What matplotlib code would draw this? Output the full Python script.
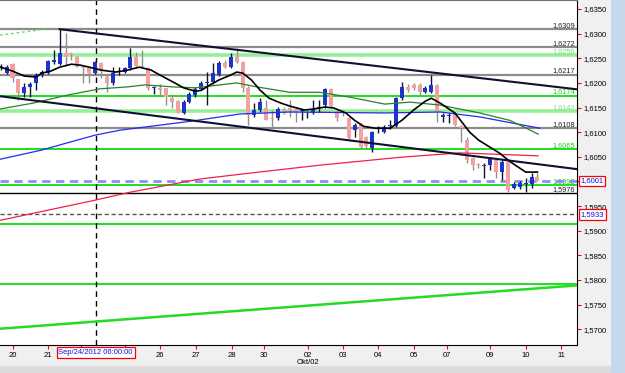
import matplotlib.pyplot as plt
from matplotlib.patches import Rectangle

plt.rcParams['font.family'] = ['Liberation Sans', 'DejaVu Sans']

# 4H candles, index 0..91
opens = [1.6230, 1.6220, 1.6238, 1.6208, 1.6179, 1.6192, 1.6200, 1.6216, 1.6220, 1.6242,
         1.6238, 1.6261, 1.6261, 1.6253, 1.6232, 1.6230, 1.6220, 1.6240, 1.6212, 1.6200,
         1.6224, 1.6222, 1.6230, 1.6253, 1.6234, 1.6230, 1.6190, 1.6190, 1.6190, 1.6169,
         1.6163, 1.6139, 1.6161, 1.6175, 1.6187, 1.6200, 1.6202, 1.6216, 1.6240, 1.6232,
         1.6253, 1.6242, 1.6190, 1.6135, 1.6145, 1.6150, 1.6128, 1.6128, 1.6147, 1.6149,
         1.6147, 1.6143, 1.6141, 1.6139, 1.6149, 1.6155, 1.6187, 1.6141, 1.6141, 1.6128,
         1.6104, 1.6116, 1.6090, 1.6068, 1.6110, 1.6100, 1.6112, 1.6112, 1.6169, 1.6192,
         1.6196, 1.6196, 1.6181, 1.6181, 1.6196, 1.6131, 1.6133, 1.6139, 1.6112, 1.6084,
         1.6047, 1.6035, 1.6031, 1.6033, 1.6043, 1.6019, 1.6039, 1.5986, 1.5988, 1.5995,
         1.5995, 1.6009]
highs = [1.6238, 1.6236, 1.6240, 1.6208, 1.6200, 1.6202, 1.6220, 1.6226, 1.6246, 1.6267,
         1.6309, 1.6301, 1.6263, 1.6255, 1.6234, 1.6232, 1.6244, 1.6242, 1.6216, 1.6232,
         1.6232, 1.6232, 1.6271, 1.6263, 1.6267, 1.6232, 1.6194, 1.6198, 1.6190, 1.6175,
         1.6165, 1.6165, 1.6181, 1.6192, 1.6204, 1.6222, 1.6240, 1.6244, 1.6246, 1.6261,
         1.6270, 1.6244, 1.6194, 1.6159, 1.6169, 1.6165, 1.6145, 1.6151, 1.6151, 1.6165,
         1.6151, 1.6145, 1.6143, 1.6165, 1.6165, 1.6190, 1.6190, 1.6145, 1.6145, 1.6131,
         1.6118, 1.6118, 1.6092, 1.6102, 1.6112, 1.6114, 1.6124, 1.6172, 1.6202, 1.6198,
         1.6200, 1.6200, 1.6194, 1.6216, 1.6198, 1.6139, 1.6139, 1.6141, 1.6114, 1.6090,
         1.6049, 1.6037, 1.6037, 1.6049, 1.6047, 1.6043, 1.6043, 1.5999, 1.6001, 1.6007,
         1.6017, 1.6017]
lows = [1.6226, 1.6218, 1.6202, 1.6165, 1.6171, 1.6171, 1.6185, 1.6212, 1.6218, 1.6238,
        1.6236, 1.6234, 1.6247, 1.6232, 1.6200, 1.6200, 1.6218, 1.6210, 1.6181, 1.6196,
        1.6216, 1.6220, 1.6226, 1.6230, 1.6230, 1.6185, 1.6177, 1.6173, 1.6155, 1.6149,
        1.6139, 1.6137, 1.6159, 1.6171, 1.6185, 1.6155, 1.6198, 1.6214, 1.6230, 1.6230,
        1.6240, 1.6181, 1.6114, 1.6131, 1.6141, 1.6124, 1.6110, 1.6124, 1.6137, 1.6131,
        1.6120, 1.6124, 1.6129, 1.6137, 1.6141, 1.6149, 1.6151, 1.6122, 1.6133, 1.6086,
        1.6090, 1.6068, 1.6066, 1.6060, 1.6098, 1.6098, 1.6106, 1.6110, 1.6165, 1.6181,
        1.6185, 1.6175, 1.6179, 1.6179, 1.6120, 1.6120, 1.6118, 1.6112, 1.6080, 1.6037,
        1.6023, 1.6027, 1.6007, 1.6023, 1.6007, 1.6003, 1.5978, 1.5984, 1.5984, 1.5978,
        1.5986, 1.6001]
closes = [1.6232, 1.6232, 1.6210, 1.6179, 1.6192, 1.6197, 1.6216, 1.6222, 1.6244, 1.6246,
          1.6261, 1.6253, 1.6257, 1.6233, 1.6230, 1.6220, 1.6242, 1.6226, 1.6200, 1.6220,
          1.6225, 1.6230, 1.6253, 1.6234, 1.6232, 1.6190, 1.6192, 1.6185, 1.6171, 1.6161,
          1.6139, 1.6161, 1.6177, 1.6187, 1.6200, 1.6202, 1.6220, 1.6240, 1.6232, 1.6253,
          1.6242, 1.6190, 1.6135, 1.6145, 1.6161, 1.6124, 1.6126, 1.6147, 1.6139, 1.6145,
          1.6139, 1.6145, 1.6141, 1.6147, 1.6151, 1.6187, 1.6153, 1.6128, 1.6139, 1.6088,
          1.6114, 1.6070, 1.6072, 1.6100, 1.6110, 1.6110, 1.6114, 1.6169, 1.6192, 1.6185,
          1.6190, 1.6181, 1.6190, 1.6196, 1.6139, 1.6135, 1.6135, 1.6114, 1.6108, 1.6043,
          1.6033, 1.6033, 1.6033, 1.6047, 1.6019, 1.6039, 1.5982, 1.5995, 1.5997, 1.5997,
          1.6009, 1.6001]

# moving averages (candle index, price)
black_ma_x = [0, 2, 4, 6, 7, 8.5, 10, 12, 13.5, 15, 17, 19.5, 21.5, 23.5, 25.5, 27, 29.5, 31, 33, 34,
              35.5, 37, 39, 40, 41, 42.5, 44, 45.5, 47.5, 49, 51.5, 53, 55, 56.5, 58.5, 60, 61.5, 63.5,
              66, 68, 70, 72, 73, 74.5, 77, 79.5, 81, 84.5, 86.5, 89, 91]
black_ma_y = [1.6232, 1.6224, 1.6214, 1.6212, 1.6220, 1.6224, 1.6232, 1.6238, 1.6236, 1.6232,
              1.6226, 1.6222, 1.6226, 1.6232, 1.6226, 1.6216, 1.6200, 1.6190, 1.6183, 1.6185,
              1.6196, 1.6206, 1.6216, 1.6222, 1.6220, 1.6206, 1.6185, 1.6169, 1.6159, 1.6153,
              1.6145, 1.6147, 1.6151, 1.6149, 1.6139, 1.6124, 1.6112, 1.6108, 1.6108, 1.6124,
              1.6145, 1.6163, 1.6169, 1.6159, 1.6139, 1.6100, 1.6084, 1.6058, 1.6039, 1.6019,
              1.6019]
green_ma_x = [-0.12, 5.5, 11.2, 16.8, 21.6, 24.5, 29, 33, 40, 43.4, 49, 54.1, 59.2, 65.1, 69.4,
              74.5, 81.2, 86.3, 88.8, 91.1]
green_ma_y = [1.6147, 1.6159, 1.6175, 1.6188, 1.6192, 1.6196, 1.6192, 1.6190, 1.6200, 1.6192,
              1.6181, 1.6181, 1.6171, 1.6157, 1.6161, 1.6155, 1.6139, 1.6124, 1.6110, 1.6096]
blue_ma_x = [-0.12, 6.7, 16.0, 20.2, 32.1, 40.6, 49.0, 65.1, 74.5, 81.2, 91.4]
blue_ma_y = [1.6045, 1.6063, 1.6094, 1.6104, 1.6122, 1.6137, 1.6141, 1.6139, 1.6141, 1.6131, 1.6108]
red_ma_x = [-0.12, 16.0, 21.9, 33.8, 42.3, 54.1, 67.7, 77.8, 91.1]
red_ma_y = [1.5921, 1.5962, 1.5978, 1.6005, 1.6017, 1.6033, 1.6049, 1.6058, 1.6052]

# trend lines
upper_x, upper_y = [10, 97.7], [1.6309, 1.6187]
lower_x, lower_y = [-0.12, 97.7], [1.6173, 1.6025]
support_x, support_y = [-0.12, 97.7], [1.5701, 1.5789]
dotted_x, dotted_y = [-0.12, 7.5], [1.6297, 1.6309]

# horizontal levels
gray_levels = [1.6309, 1.6272, 1.6217, 1.6108]
pale_green_levels = [1.6256, 1.6142]
green_levels = [1.6174, 1.6065, 1.5992, 1.5913, 1.5791]
black_level = 1.5976
bid_level = 1.6001
dash_level = 1.5933
labeled_levels = [1.6309, 1.6272, 1.6256, 1.6217, 1.6174, 1.6142, 1.6108, 1.6065, 1.5992, 1.5976]

# time axis
day_pos = [2.08, 8.0, 13.6, 21.1, 27.0, 33.1, 39.2, 44.6, 52.1, 58.0, 64.0, 70.0, 75.6, 82.9, 89.0, 95.0]
day_labels = ['20', '21', '', '', '26', '27', '28', '30', '02', '03', '04', '05', '07', '09', '10', '11']
cursor_pos = 16.1
price_ticks = [1.5700 + 0.005 * k for k in range(14)]


def fmt(v):
    return f"{v:.4f}".replace('.', ',')


fig = plt.figure(figsize=(6.25, 3.73), dpi=100)
fig.patch.set_facecolor('#F0F0F0')
ax = fig.add_axes([0, 28 / 373, 577 / 625, 345 / 373])
ax.set_xlim(-0.12, 97.7)
ax.set_ylim(1.5668, 1.63683)

for lv in gray_levels:
    ax.axhline(lv, color='#8C8C8C', lw=1.6, zorder=1)
for lv in pale_green_levels:
    ax.axhline(lv, color='#98EE98', lw=2.6, zorder=1)
for lv in green_levels:
    ax.axhline(lv, color='#22DD22', lw=1.4, zorder=1)
ax.axhline(black_level, color='black', lw=1.0, zorder=1)
ax.axhline(bid_level, color='#8C8CFF', lw=2.0, dashes=(3, 2), zorder=1.5)
ax.axhline(dash_level, color='#555555', lw=1.0, dashes=(3, 2), zorder=1)
ax.axvline(cursor_pos, color='black', lw=1.0, dashes=(4, 3), zorder=1)

for lv in labeled_levels:
    if lv in pale_green_levels:
        c = '#7CE07C'
    elif lv in green_levels:
        c = '#22CC22'
    else:
        c = '#222222'
    ax.text(97.4, lv + 0.0001, fmt(lv), ha='right', va='bottom', fontsize=5.3, color=c, zorder=1.2)

# candles
for i in range(len(opens)):
    o, h, l, c = opens[i], highs[i], lows[i], closes[i]
    up = c >= o
    body_col = '#1C34C8' if up else '#F4A0A0'
    wick_col = '#101030' if up else '#909090'
    ax.vlines(i, l, h, color=wick_col, lw=1.0, zorder=3)
    ax.bar(i, max(abs(c - o), 0.00008), bottom=min(o, c), width=0.68,
           color=body_col, edgecolor='none', zorder=3.5)

ax.plot(red_ma_x, red_ma_y, color='#F0204A', lw=0.9, zorder=4)
ax.plot(blue_ma_x, blue_ma_y, color='#2828F0', lw=0.9, zorder=4)
ax.plot(green_ma_x, green_ma_y, color='#2A802A', lw=0.9, zorder=4)
ax.plot(black_ma_x, black_ma_y, color='black', lw=1.2, zorder=4.2)

ax.plot(upper_x, upper_y, color='#101030', lw=1.5, zorder=4.5)
ax.plot(lower_x, lower_y, color='#101030', lw=1.5, zorder=4.5)
ax.plot(support_x, support_y, color='#22DD22', lw=1.8, zorder=4.5)
ax.plot(dotted_x, dotted_y, color='#66DD66', lw=1.0, ls=(0, (2, 2)), zorder=4.5)

# axes styling
ax.spines['left'].set_visible(False)
ax.spines['top'].set_color('#707070')
ax.spines['right'].set_color('black')
ax.spines['bottom'].set_color('black')

ax.yaxis.tick_right()
ax.set_yticks(price_ticks)
# the 1,6000 label sits under the bid box, as on the reference
ax.set_yticklabels(['' if abs(v - 1.6) < 1e-6 else fmt(v) for v in price_ticks])
ax.tick_params(axis='y', direction='out', length=3, pad=2, color='red',
               labelcolor='black', labelsize=5.5)
ax.set_xticks(day_pos)
ax.set_xticklabels(day_labels)
ax.tick_params(axis='x', direction='out', length=3, pad=2, color='red',
               labelcolor='black', labelsize=5.5)

ytr = ax.get_yaxis_transform()
xtr = ax.get_xaxis_transform()
box = dict(boxstyle='square,pad=0.25', fc='white', ec='red', lw=0.9)
for lv in [bid_level, dash_level]:
    ax.text(1.006, lv, fmt(lv), transform=ytr, ha='left', va='center', fontsize=5.5,
            color='#1010E0', bbox=box, clip_on=False, zorder=6)
ax.text(cursor_pos, -0.021, 'Sep/24/2012 06:00:00', transform=xtr, ha='center', va='center',
        fontsize=5.5, color='#1010E0', bbox=box, clip_on=False, zorder=6)
ax.text(52.1, -0.05, 'Okt/02', transform=xtr, ha='center', va='center', fontsize=5.5,
        color='black', clip_on=False)

fig.add_artist(Rectangle((611 / 625, 0), 14 / 625, 1, transform=fig.transFigure,
                         facecolor='#C4D8EE', edgecolor='none'))
fig.add_artist(Rectangle((0, 0), 611 / 625, 7 / 373, transform=fig.transFigure,
                         facecolor='#DCDCDC', edgecolor='none'))

fig.savefig('out.png', dpi=100, facecolor=fig.get_facecolor())
